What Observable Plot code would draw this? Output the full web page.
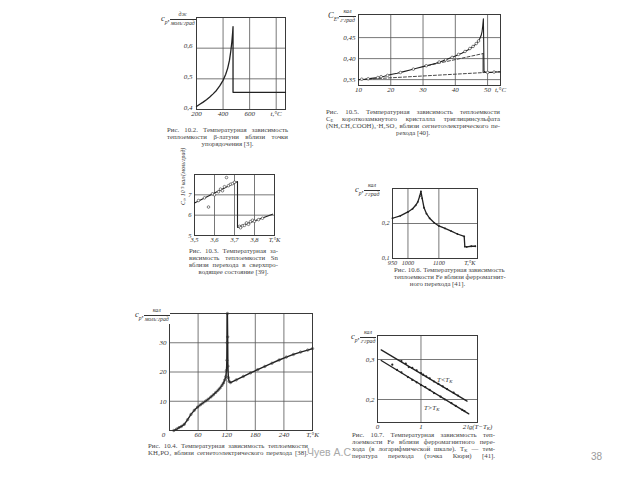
<!DOCTYPE html>
<html><head><meta charset="utf-8">
<script src="https://cdn.jsdelivr.net/npm/d3@7"></script>
<script src="https://cdn.jsdelivr.net/npm/@observablehq/plot@0.6"></script>
<style>
body{margin:0;background:#fff;}
#page{position:relative;width:640px;height:480px;overflow:hidden;background:#fff;font-family:"Liberation Serif","DejaVu Serif",serif;color:#333;}
.cap{position:absolute;font-size:6.8px;line-height:6.9px;color:#444;}
.cap .j{text-align:justify;text-align-last:justify;white-space:nowrap;}
.cap .c{text-align:center;white-space:nowrap;}
.cap sub{font-size:4.5px;line-height:0;vertical-align:-1px;}
.ylab{display:flex;align-items:center;background:#fff;font-style:italic;line-height:1;color:#333;padding:1px 1px;}
.ylab .sym{font-size:8.5px;margin-right:1px;}
.ylab .sym sub{font-size:5.5px;}
.ylab .fr{display:inline-flex;flex-direction:column;align-items:center;font-size:5.8px;}
.ylab .num{border-bottom:0.8px solid #333;padding:0 1px 1px;width:100%;text-align:center;}
.ylab .den{padding-top:1px;}
.note{position:absolute;font-style:italic;font-size:6.8px;line-height:1;color:#333;white-space:nowrap;}
.note sub{font-size:4.8px;line-height:0;vertical-align:-1px;}
</style>
</head><body>
<div id="page"></div>
<script>
// ---------- Fig. 10.2 (beta-brass) ----------
const fig102T  = [200, 225, 250, 275, 300, 325, 350, 375, 400, 420, 435, 448, 458, 466, 472, 475, 475, 520, 600, 700, 800, 870];
const fig102Cp = [0.410, 0.417, 0.424, 0.432, 0.441, 0.451, 0.462, 0.477, 0.495, 0.515, 0.535, 0.560, 0.590, 0.620, 0.650, 0.670, 0.456, 0.456, 0.456, 0.456, 0.456, 0.456];
const fig102XTicks = [200, 400, 600, 800];
const fig102XLabels = ["200", "400", "600", "t,°C"];
const fig102YTicks = [0.4, 0.5, 0.6];
const fig102YLabels = ["0,4", "0,5", "0,6"];

// ---------- Fig. 10.5 (TGS) ----------
const fig105T = [10, 12, 14, 16, 18, 20, 22, 24, 26, 28, 30, 32, 34, 36, 38, 40, 42, 44, 45, 46, 47, 47.5, 48, 48.3, 48.5, 48.7, 48.9, 49.5, 51, 52.5, 54];
const fig105C = [0.350, 0.351, 0.353, 0.355, 0.358, 0.362, 0.365, 0.369, 0.373, 0.377, 0.381, 0.385, 0.389, 0.394, 0.400, 0.406, 0.413, 0.421, 0.426, 0.432, 0.440, 0.446, 0.455, 0.465, 0.478, 0.495, 0.370, 0.367, 0.367, 0.368, 0.368];
const fig105DotT = [11, 13, 16, 17, 19, 23, 27, 31, 35, 37, 39, 41, 43, 44.5, 45.5, 46.5, 47.2, 50, 52];
const fig105DotC = [0.351, 0.352, 0.355, 0.357, 0.360, 0.367, 0.375, 0.383, 0.392, 0.397, 0.403, 0.410, 0.417, 0.424, 0.429, 0.436, 0.442, 0.367, 0.368];
const fig105UpperDashT = [30, 48.6];
const fig105UpperDashC = [0.381, 0.412];
const fig105JumpT = [48.6, 48.6];
const fig105JumpC = [0.412, 0.367];
const fig105LowerDashT = [10, 54];
const fig105LowerDashC = [0.350, 0.369];
const fig105XTicks = [10, 20, 30, 40, 50, 54];
const fig105XLabels = ["10", "20", "30", "40", "50", "t,°C"];
const fig105YTicks = [0.35, 0.40, 0.45];
const fig105YLabels = ["0,35", "0,40", "0,45"];

// ---------- Fig. 10.3 (Sn) ----------
const fig103LineT = [3.5, 3.715, 3.715, 3.89];
const fig103LineC = [6.6, 7.65, 5.4, 6.05];
const fig103PtT = [3.52, 3.55, 3.57, 3.59, 3.60, 3.62, 3.63, 3.64, 3.65, 3.66, 3.67, 3.68, 3.69, 3.70, 3.725, 3.73, 3.74, 3.75, 3.76, 3.77, 3.78, 3.79, 3.80, 3.82, 3.84];
const fig103PtC = [6.72, 6.85, 6.40, 7.05, 7.00, 7.15, 7.28, 7.20, 7.40, 7.85, 7.45, 7.52, 7.55, 7.62, 5.45, 5.38, 5.48, 5.50, 5.62, 5.55, 5.68, 5.75, 5.70, 5.78, 5.85];
const fig103XTicks = [3.5, 3.6, 3.7, 3.8, 3.9];
const fig103XLabels = ["3,5", "3,6", "3,7", "3,8", "T,°K"];
const fig103YTicks = [5, 6, 7];
const fig103YLabels = ["5", "6", "7"];

// ---------- Fig. 10.6 (Fe) ----------
const fig106T = [950, 975, 1000, 1015, 1025, 1032, 1038, 1042, 1046, 1052, 1060, 1070, 1085, 1100, 1120, 1140, 1160, 1182, 1184, 1190, 1205, 1218];
const fig106C = [0.215, 0.222, 0.233, 0.242, 0.252, 0.262, 0.278, 0.292, 0.272, 0.245, 0.228, 0.215, 0.202, 0.193, 0.186, 0.178, 0.170, 0.163, 0.134, 0.133, 0.135, 0.135];
const fig106XTicks = [950, 1000, 1100, 1200];
const fig106XLabels = ["950", "1000", "1100", "T,°K"];
const fig106YTicks = [0.1, 0.2];
const fig106YLabels = ["0,1", "0,2"];

// ---------- Fig. 10.4 (KH2PO4) ----------
const fig104T = [9, 15, 20, 25, 31, 38, 45, 52, 59, 65, 70, 76, 81, 87, 92, 97, 102, 106, 110, 113, 116, 118, 119.5, 120.5, 121, 121.5, 122, 122.5, 123.5, 125, 128, 140, 155, 170, 185, 200, 215, 230, 245, 260, 275, 290, 300];
const fig104C = [0, 0.5, 1.0, 1.4, 2.1, 3.7, 5.5, 6.9, 8.0, 8.8, 9.4, 10.1, 10.7, 11.5, 12.2, 13.0, 13.8, 14.5, 15.4, 16.2, 17.3, 18.4, 20.5, 24, 30, 40, 32, 22, 18.1, 16.8, 16.4, 17.3, 18.5, 19.7, 20.8, 21.9, 23.0, 24.1, 25.1, 26.0, 26.8, 27.5, 28.0];
const fig104XTicks = [0, 60, 120, 180, 240, 300];
const fig104XLabels = ["0", "60", "120", "180", "240", "T,°K"];
const fig104YTicks = [10, 20, 30];
const fig104YLabels = ["10", "20", "30"];

// ---------- Fig. 10.7 (Fe, log scale) ----------
const fig107UpperLineX = [0.085, 2.06];
const fig107UpperLineY = [0.324, 0.196];
const fig107LowerLineX = [0.085, 2.10];
const fig107LowerLineY = [0.2975, 0.164];
const fig107aX = [0.55, 0.65, 0.72, 0.8, 0.9, 1.0, 1.05, 1.12, 1.2, 1.3, 1.4, 1.5, 1.6, 1.75, 1.85];
const fig107aY = [0.296, 0.290, 0.281, 0.279, 0.273, 0.266, 0.262, 0.258, 0.253, 0.245, 0.239, 0.233, 0.226, 0.217, 0.210];
const fig107bX = [0.34, 0.45, 0.55, 0.7, 0.8, 0.9, 1.0, 1.1, 1.2, 1.3, 1.45, 1.55, 1.7, 1.8, 1.95, 2.0];
const fig107bY = [0.287, 0.274, 0.268, 0.256, 0.249, 0.243, 0.236, 0.231, 0.224, 0.216, 0.207, 0.200, 0.191, 0.184, 0.174, 0.171];
const fig107XTicks = [0, 1, 2];
const fig107XLabels = ["0", "1", "2"];
const fig107YTicks = [0.2, 0.3];
const fig107YLabels = ["0,2", "0,3"];

// ---------- helpers ----------
const page = document.getElementById("page");
function place(el, left, top) {
  el.style.position = "absolute";
  el.style.left = left + "px";
  el.style.top = top + "px";
  page.appendChild(el);
}
const INK = "#2e2e2e";
function panel(o) {
  const M = 40;
  const fs = o.fontSize || 7;
  const svg = Plot.plot({
    width: o.w + 2 * M, height: o.h + 2 * M, margin: M,
    x: {domain: o.xDomain, axis: null},
    y: {domain: o.yDomain, axis: null},
    style: {background: "transparent", fontFamily: "'Liberation Serif', serif", color: INK, overflow: "visible"},
    marks: [
      Plot.ruleX(o.xGrid, {stroke: "#555", strokeWidth: 0.8}),
      Plot.ruleY(o.yGrid, {stroke: "#555", strokeWidth: 0.8}),
      Plot.frame({stroke: "#3a3a3a", strokeWidth: 1}),
      Plot.text(o.xTicks, {x: d => d, text: (d, i) => o.xLabels[i], frameAnchor: "bottom", dy: 6, fontSize: fs, fontStyle: "italic", fill: INK}),
      Plot.text(o.yTicks, {y: d => d, text: (d, i) => o.yLabels[i], frameAnchor: "left", dx: (o.yDx || -3), dy: (o.yDy || 0), textAnchor: "end", fontSize: fs, fontStyle: "italic", fill: INK}),
      ...o.marks
    ]
  });
  place(svg, o.left - M, o.top - M);
  return svg;
}
function ylab(left, top, sym, num, den) {
  const d = document.createElement("div");
  d.className = "ylab";
  d.innerHTML = `<span class="sym">${sym}</span><span class="fr"><span class="num">${num}</span><span class="den">${den}</span></span>`;
  place(d, left, top);
}
function caption(left, top, width, lines, lastCentered = true) {
  const d = document.createElement("div");
  d.className = "cap";
  d.style.width = width + "px";
  d.innerHTML = lines.map((l, i) => `<div class="${(i === lines.length - 1 && lastCentered) ? "c" : "j"}">${l}</div>`).join("");
  place(d, left, top);
}
function note(left, top, html, extra = "") {
  const d = document.createElement("div");
  d.className = "note";
  d.innerHTML = html;
  if (extra) d.style.cssText += extra;
  place(d, left, top);
}
const lineStyle = {stroke: "#222", strokeWidth: 1.1};

// Fig 10.2
panel({
  left: 196, top: 17, w: 89, h: 92, xDomain: [200, 870], yDomain: [0.4, 0.7],
  xGrid: [400, 600, 800], yGrid: [0.5, 0.6], yDy: -2, yDx: -4,
  xTicks: fig102XTicks, xLabels: fig102XLabels, yTicks: fig102YTicks, yLabels: fig102YLabels,
  marks: [Plot.line(fig102T.map((t, i) => ({t, c: fig102Cp[i]})), {x: "t", y: "c", ...lineStyle, strokeWidth: 1.3})]
});
ylab(160, 11, "c<sub>p</sub>,", "дж", "моль·град");
caption(167, 127, 121, ["Рис. 10.2. Температурная зависимость", "теплоемкости β-латуни вблизи точки", "упорядочения [3]."]);

// Fig 10.5
panel({
  left: 358, top: 14, w: 142, h: 71, xDomain: [10, 54], yDomain: [0.336, 0.505],
  xGrid: [20, 30, 40, 50], yGrid: [0.35, 0.40, 0.45],
  xTicks: fig105XTicks, xLabels: fig105XLabels, yTicks: fig105YTicks, yLabels: fig105YLabels,
  marks: [
    Plot.line(fig105LowerDashT.map((t, i) => ({t, c: fig105LowerDashC[i]})), {x: "t", y: "c", stroke: "#333", strokeWidth: 0.9, strokeDasharray: "3,2"}),
    Plot.line(fig105UpperDashT.map((t, i) => ({t, c: fig105UpperDashC[i]})), {x: "t", y: "c", stroke: "#333", strokeWidth: 0.9, strokeDasharray: "3,2"}),
    Plot.line(fig105JumpT.map((t, i) => ({t, c: fig105JumpC[i]})), {x: "t", y: "c", stroke: "#333", strokeWidth: 1}),
    Plot.line(fig105T.map((t, i) => ({t, c: fig105C[i]})), {x: "t", y: "c", ...lineStyle}),
    Plot.dot(fig105DotT.map((t, i) => ({t, c: fig105DotC[i]})), {x: "t", y: "c", r: 1.3, stroke: "#333", strokeWidth: 0.6, fill: "white"})
  ]
});
ylab(327, 8, "C<sub>E</sub>,", "кал", "г·град");
caption(326, 109, 174, ["Рис. 10.5. Температурная зависимость теплоемкости", "C<sub>E</sub> короткозамкнутого кристалла триглицинсульфата", "(NH₂CH₂COOH)₃·H₂SO₄ вблизи сегнетоэлектрического пе-", "рехода [40]."]);

// Fig 10.3
panel({
  left: 194, top: 174, w: 80, h: 61, xDomain: [3.5, 3.9], yDomain: [5, 8],
  xGrid: [3.6, 3.7, 3.8], yGrid: [6, 7], fontSize: 6.5,
  xTicks: fig103XTicks, xLabels: fig103XLabels, yTicks: fig103YTicks, yLabels: fig103YLabels,
  marks: [
    Plot.line(fig103LineT.map((t, i) => ({t, c: fig103LineC[i]})), {x: "t", y: "c", ...lineStyle}),
    Plot.dot(fig103PtT.map((t, i) => ({t, c: fig103PtC[i]})), {x: "t", y: "c", r: 1.3, stroke: "#333", strokeWidth: 0.6, fill: "white"}),
    Plot.text(["C\u209B, 10\u207B\u00B3 кал/(моль·град)"], {frameAnchor: "left", rotate: -90, dx: -11, fontSize: 5.8, fontStyle: "italic", fill: INK})
  ]
});
caption(189, 248, 89, ["Рис. 10.3. Температурная за-", "висимость теплоемкости Sn", "вблизи перехода в сверхпро-", "водящее состояние [39]."]);

// Fig 10.6
panel({
  left: 392, top: 188, w: 85, h: 70, xDomain: [950, 1225], yDomain: [0.1, 0.3],
  xGrid: [1000, 1100], yGrid: [0.2], fontSize: 6.2,
  xTicks: fig106XTicks, xLabels: fig106XLabels, yTicks: fig106YTicks, yLabels: fig106YLabels,
  marks: [
    Plot.line(fig106T.map((t, i) => ({t, c: fig106C[i]})), {x: "t", y: "c", ...lineStyle, strokeWidth: 1.3}),
    Plot.dot(fig106T.map((t, i) => ({t, c: fig106C[i]})), {x: "t", y: "c", r: 0.9, fill: "#222"})
  ]
});
ylab(354, 182, "c<sub>p</sub>,", "кал", "г·град");
caption(394, 267, 87, ["Рис. 10.6. Температурная зависимость", "теплоемкости Fe вблизи ферромагнит-", "ного перехода [41]."]);

// Fig 10.4
panel({
  left: 169, top: 313, w: 143, h: 117, xDomain: [0, 300], yDomain: [0, 40],
  xGrid: [60, 120, 180, 240], yGrid: [10, 20, 30],
  xTicks: fig104XTicks.slice(1), xLabels: fig104XLabels.slice(1), yTicks: fig104YTicks, yLabels: fig104YLabels,
  marks: [
    Plot.text(fig104XTicks.slice(0, 1), {x: d => d, text: (d, i) => fig104XLabels[i], frameAnchor: "bottom", dy: 6, dx: -6, fontSize: 7, fontStyle: "italic", fill: INK}),
    Plot.line(fig104T.map((t, i) => ({t, c: fig104C[i]})), {x: "t", y: "c", ...lineStyle, strokeWidth: 1.4}),
    Plot.dot(fig104T.map((t, i) => ({t, c: fig104C[i]})), {x: "t", y: "c", r: 1.2, stroke: "#333", strokeWidth: 0.6, fill: "none"})
  ]
});
ylab(134, 307, "c<sub>p</sub>,", "кал", "моль·град");
caption(148, 443, 160, ["Рис. 10.4. Температурная зависимость теплоемкости", "KH₂PO₄ вблизи сегнетоэлектрического перехода [38]."], false);

// Fig 10.7
panel({
  left: 377, top: 335, w: 100, h: 87, xDomain: [0, 2.3], yDomain: [0.1425, 0.36],
  xGrid: [1], yGrid: [0.2, 0.3],
  xTicks: fig107XTicks, xLabels: fig107XLabels, yTicks: fig107YTicks, yLabels: fig107YLabels,
  marks: [
    Plot.line(fig107UpperLineX.map((x, i) => ({x, y: fig107UpperLineY[i]})), {x: "x", y: "y", ...lineStyle, strokeWidth: 1.3}),
    Plot.line(fig107LowerLineX.map((x, i) => ({x, y: fig107LowerLineY[i]})), {x: "x", y: "y", ...lineStyle, strokeWidth: 1.3}),
    Plot.dot(fig107aX.map((x, i) => ({x, y: fig107aY[i]})), {x: "x", y: "y", r: 1.1, fill: "#222"}),
    Plot.dot(fig107bX.map((x, i) => ({x, y: fig107bY[i]})), {x: "x", y: "y", r: 1.1, fill: "#222"})
  ]
});
ylab(350, 329, "c<sub>p</sub>,", "кал", "г·град");
note(467, 424, "lg(T−T<sub>K</sub>)");
note(437, 377, "T&lt;T<sub>K</sub>");
note(424, 405, "T&gt;T<sub>K</sub>");
caption(352, 432, 143, ["Рис. 10.7. Температурная зависимость теп-", "лоемкости Fe вблизи ферромагнитного пере-", "хода (в логарифмической шкале). T<sub>K</sub> — тем-", "пература перехода (точка Кюри) [41]."], false);

// watermark and page number
note(307, 447, "Чуев А.С.", "font-style:normal;font-family:'Liberation Sans',sans-serif;font-size:10.5px;color:#a8a8a8;");
note(591, 452, "38", "font-style:normal;font-family:'Liberation Sans',sans-serif;font-size:10px;color:#9a9a9a;");
</script>
</body></html>
